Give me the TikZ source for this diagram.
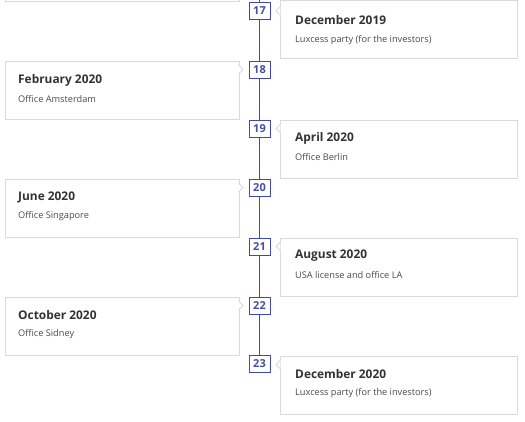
\documentclass[tikz,border=0pt]{standalone}
\usepackage{fontspec}
\setmainfont{Open Sans}
\usetikzlibrary{positioning}
\definecolor{lineblue}{RGB}{62,72,182}
\definecolor{numblue}{RGB}{70,78,165}
\definecolor{cardgray}{RGB}{218,218,218}
\definecolor{titlegray}{RGB}{51,51,51}
\definecolor{subgray}{RGB}{75,75,75}
\tikzset{
  card/.style={draw=cardgray, fill=white, line width=0.9pt, minimum height=58pt, inner sep=0pt, anchor=north west},
  rcard/.style={card, minimum width=237pt},
  lcard/.style={card, minimum width=234pt},
  num/.style={draw=lineblue, fill=white, line width=1pt, minimum width=21pt, minimum height=17pt, inner sep=0pt, text=numblue, font=\bfseries\fontsize{11}{11}\selectfont},
  evtitle/.style={anchor=west, inner sep=0pt, text=titlegray, font=\bfseries\fontsize{11.9}{11.9}\selectfont},
  evtext/.style={anchor=west, inner sep=0pt, text=subgray, font=\fontsize{9.2}{9.2}\selectfont},
  notch/.style={draw=cardgray, line width=0.9pt, fill=white},
}
\begin{document}
\begin{tikzpicture}[x=1pt,y=-1pt]
\useasboundingbox (0,0) rectangle (525,421);
\clip (0,0) rectangle (525,421);

% cards
\node[lcard] (c16) at (5,-57){};
\node[rcard] (c17) at (280,0){};
\node[lcard] (c18) at (5,61){};
\node[rcard] (c19) at (280,120){};
\node[lcard] (c20) at (5,179){};
\node[rcard] (c21) at (280,238){};
\node[lcard] (c22) at (5,297){};
\node[rcard] (c23) at (280,356){};

% notches
\filldraw[notch] (280.4,6.5) -- (276,11) -- (280.4,15.5);
\filldraw[notch] (238.6,65) -- (243,69.5) -- (238.6,74);
\filldraw[notch] (280.4,124) -- (276,128.5) -- (280.4,133);
\filldraw[notch] (238.6,183) -- (243,187.5) -- (238.6,192);
\filldraw[notch] (280.4,242) -- (276,246.5) -- (280.4,251);
\filldraw[notch] (238.6,301) -- (243,305.5) -- (238.6,310);
\filldraw[notch] (280.4,360) -- (276,364.5) -- (280.4,369);

% texts
\node[evtitle] (t17) at (295,20){December 2019};
\node[evtext] (s17) at (295,40){Luxcess party (for the investors)};
\node[evtitle] (t18) at (18,80){February 2020};
\node[evtext] (s18) at (18,99){Office Amsterdam};
\node[evtitle] (t19) at (295,138){April 2020};
\node[evtext] (s19) at (295,157){Office Berlin};
\node[evtitle] (t20) at (18,197){June 2020};
\node[evtext] (s20) at (18,216){Office Singapore};
\node[evtitle] (t21) at (295,256){August 2020};
\node[evtext] (s21) at (295,275){USA license and office LA};
\node[evtitle] (t22) at (18,315){October 2020};
\node[evtext] (s22) at (18,334){Office Sidney};
\node[evtitle] (t23) at (295,374){December 2020};
\node[evtext] (s23) at (295,393){Luxcess party (for the investors)};

% timeline
\coordinate (top) at (259.5,0);
\node[num] (n17) at (259.5,10.5){17};
\node[num] (n18) at (259.5,69.5){18};
\node[num] (n19) at (259.5,128.5){19};
\node[num] (n20) at (259.5,187.5){20};
\node[num] (n21) at (259.5,246.5){21};
\node[num] (n22) at (259.5,305.5){22};
\node[num] (n23) at (259.5,364){23};
\draw[lineblue, line width=1pt](top) -- (n17);
\draw[lineblue, line width=1pt](n17) -- (n18);
\draw[lineblue, line width=1pt](n18) -- (n19);
\draw[lineblue, line width=1pt](n19) -- (n20);
\draw[lineblue, line width=1pt](n20) -- (n21);
\draw[lineblue, line width=1pt](n21) -- (n22);
\draw[lineblue, line width=1pt](n22) -- (n23);

\end{tikzpicture}
\end{document}
